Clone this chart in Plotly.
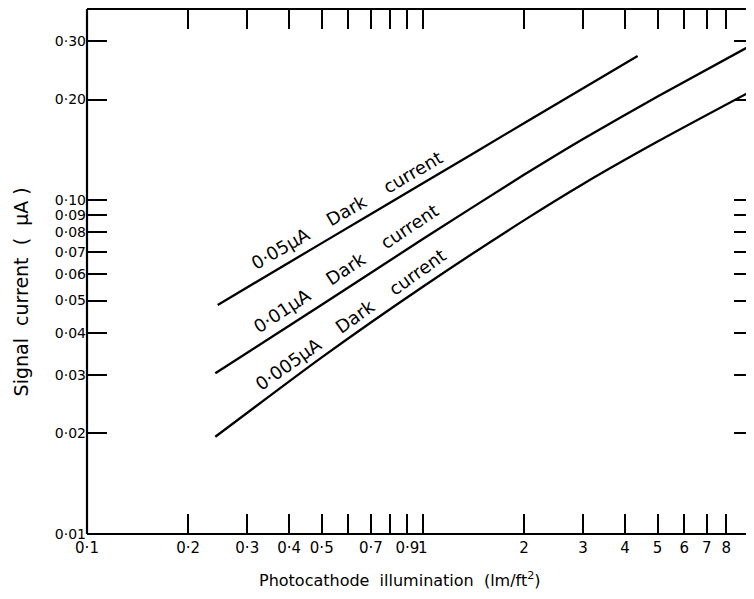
import plotly.graph_objects as go

# ---- data ----
illum_a = [0.245, 0.50, 1.0, 2.0, 4.36]
signal_a = [0.0485, 0.0743, 0.1122, 0.1698, 0.270]

illum_b = [0.241, 0.50, 1.0, 2.0, 3.0, 5.0, 9.68]
signal_b = [0.0303, 0.0486, 0.0764, 0.119, 0.1524, 0.204, 0.2938]

illum_c = [0.241, 0.50, 1.0, 2.0, 3.0, 5.0, 9.68]
signal_c = [0.01955, 0.0338, 0.0550, 0.0869, 0.1117, 0.1496, 0.2138]

curve_labels = ["0·05μA    Dark    current", "0·01μA    Dark    current",
                "0·005μA    Dark    current"]

x_tickvals = [0.1, 0.2, 0.3, 0.4, 0.5, 0.7, 0.9, 1, 2, 3, 4, 5, 6, 7, 8]
x_ticktext = ["0·1", "0·2", "0·3", "0·4", "0·5", "0·7", "0·9", "1",
              "2", "3", "4", "5", "6", "7", "8"]
x_unlabelled = [0.6, 0.8]
y_tickvals = [0.01, 0.02, 0.03, 0.04, 0.05, 0.06, 0.07, 0.08, 0.09, 0.10, 0.20, 0.30]
y_ticktext = ["0·01", "0·02", "0·03", "0·04", "0·05", "0·06", "0·07", "0·08",
              "0·09", "0·10", "0·20", "0·30"]

FONT = "DejaVu Sans"

fig = go.Figure()
for xs, ys in [(illum_a, signal_a), (illum_b, signal_b), (illum_c, signal_c)]:
    fig.add_trace(go.Scatter(x=xs, y=ys, mode="lines",
                             line=dict(color="black", width=2.3, shape="spline", smoothing=0.6),
                             showlegend=False, hoverinfo="skip"))

axis_common = dict(type="log", showgrid=False, zeroline=False, showline=False,
                   ticks="inside", ticklen=20, tickwidth=1.5, tickcolor="black",
                   mirror="ticks", automargin=False, tickangle=0)

fig.update_xaxes(range=[-1, 0.986], tickmode="array", tickvals=x_tickvals,
                 ticktext=x_ticktext, ticklabelstandoff=3,
                 tickfont=dict(family=FONT, size=15, color="black"),
                 minor=dict(tickmode="array", tickvals=x_unlabelled, ticks="inside",
                            ticklen=20, tickwidth=1.5, tickcolor="black", showgrid=False),
                 **axis_common)
fig.update_yaxes(range=[-2, -0.428], tickmode="array", tickvals=y_tickvals,
                 ticktext=y_ticktext,
                 tickfont=dict(family=FONT, size=14, color="black"),
                 **axis_common)

shapes = [
    dict(type="line", xref="paper", yref="paper", x0=0, x1=0, y0=0, y1=1,
         line=dict(color="black", width=2.2)),
    dict(type="line", xref="paper", yref="paper", x0=0, x1=1, y0=0, y1=0,
         line=dict(color="black", width=2.2)),
    dict(type="line", xref="paper", yref="paper", x0=0, x1=1, y0=1, y1=1,
         line=dict(color="black", width=2.2)),
]

annotations = [
    dict(text="Photocathode  illumination  (lm/ft<sup>2</sup>)", xref="paper", yref="paper",
         x=0.469, y=-0.0876, xanchor="center", yanchor="middle", showarrow=False,
         font=dict(family=FONT, size=16, color="black")),
    dict(text="Signal  current  (  μA )", xref="paper", yref="paper",
         x=-0.099, y=0.462, xanchor="center", yanchor="middle", showarrow=False,
         textangle=-90, font=dict(family=FONT, size=19, color="black")),
]
label_pos = [(-0.2283, -1.0299, -30), (-0.2298, -1.2036, -33.5), (-0.2149, -1.3563, -35.5)]
for txt, (lx, ly, ang) in zip(curve_labels, label_pos):
    annotations.append(dict(text=txt, xref="x", yref="y", x=lx, y=ly,
                            xanchor="center", yanchor="middle", showarrow=False,
                            textangle=ang, font=dict(family=FONT, size=18, color="black")))

# The page body has an 8px margin, so the figure is sized to fit the window exactly.
fig.update_layout(width=746, height=591, margin=dict(l=79, r=0, t=1, b=65),
                  plot_bgcolor="white", paper_bgcolor="white",
                  shapes=shapes, annotations=annotations)

fig.write_html("out.html")
